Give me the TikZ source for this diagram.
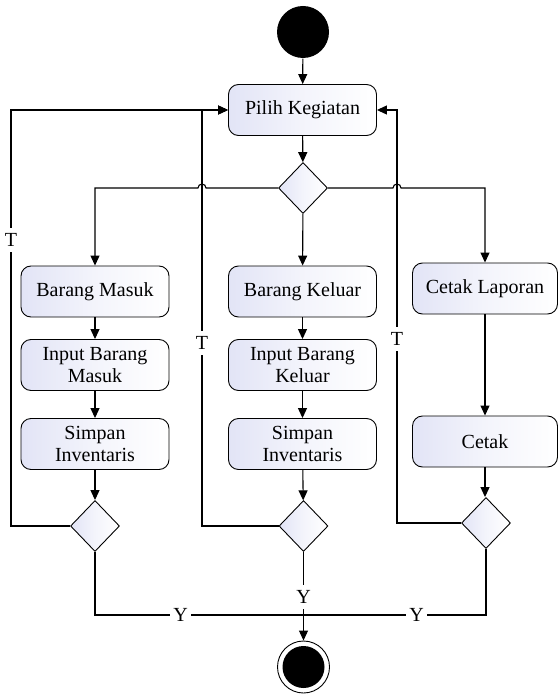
\documentclass[tikz,border=0pt]{standalone}
\usepackage{fontspec}
\setmainfont{Liberation Serif}
\usetikzlibrary{arrows.meta,shapes.geometric}
\definecolor{boxL}{RGB}{226,228,246}
\begin{document}
\begin{tikzpicture}[x=1pt,y=1pt,
  font=\fontsize{20}{22}\selectfont,
  line width=1.1pt,
  act/.style={draw, line width=0.9pt, rounded corners=10pt, left color=boxL, right color=white, middle color=white!60!boxL,
    minimum width=148pt, minimum height=51pt, align=center, inner sep=2pt},
  dec/.style={draw, diamond, line width=0.9pt, left color=boxL, right color=white, middle color=white!60!boxL,
    minimum width=49pt, minimum height=51pt, inner sep=0pt},
  flow/.style={-{Triangle[length=10pt,width=9pt]}},
  lbl/.style={fill=white, inner xsep=3pt, inner ysep=5pt}
]
\useasboundingbox (0,0) rectangle (558,-695);

% nodes
\node[circle, fill=black, minimum size=52pt, inner sep=0pt] (start) at (303,-32) {};
\node[act] (pk) at (302.5,-110) {Pilih Kegiatan};
\node[dec] (d0) at (303,-188) {};

\node[act] (bm)  at (95,-291.5) {Barang Masuk};
\node[act] (ibm) at (95,-365) {Input Barang\\Masuk};
\node[act] (sbm) at (95,-444) {Simpan\\Inventaris};
\node[dec] (dd1) at (95,-526) {};

\node[act] (bk)  at (302.5,-291.5) {Barang Keluar};
\node[act] (ibk) at (302.5,-365) {Input Barang\\Keluar};
\node[act] (sbk) at (302.5,-444) {Simpan\\Inventaris};
\node[dec] (dd2) at (303.5,-526) {};

\node[act, minimum width=145pt] (cl) at (485,-288.5) {Cetak Laporan};
\node[act, minimum width=145pt] (ct) at (485,-441.5) {Cetak};
\node[dec] (dd3) at (486,-523) {};

\node[circle, draw, line width=0.9pt, fill=white, minimum size=52pt, inner sep=0pt] (endc) at (303.5,-667) {};
\node[circle, fill=black, minimum size=42pt, inner sep=0pt] (endi) at (endc) {};

% helper coordinates
\coordinate (hopa) at (206,-188);
\coordinate (hopb) at (393,-188);
\coordinate (l1) at (11,-110);
\coordinate (l2) at (202,-110);
\coordinate (l3) at (397,-110);
\coordinate (m) at (303.5,-615);

% main flow
\draw[flow] (start) -- (pk);
\draw[flow] (pk) -- (d0);
\draw[flow] (d0.west) -- (hopa) arc[start angle=0, end angle=180, radius=4pt] -- (d0.west -| bm.north) -- (bm.north);
\draw[flow] (d0) -- (bk);
\draw[flow] (d0.east) -- (hopb) arc[start angle=180, end angle=0, radius=4pt] -- (d0.east -| cl.north) -- (cl.north);

\draw[flow] (bm) -- (ibm);
\draw[flow] (ibm) -- (sbm);
\draw[flow] (sbm) -- (dd1);
\draw[flow] (bk) -- (ibk);
\draw[flow] (ibk) -- (sbk);
\draw[flow] (sbk) -- (dd2);
\draw[flow] (cl) -- (ct);
\draw[flow] (ct) -- (dd3.north -| ct.south);

% loops back
\draw[flow] (dd1.west) -| (l1) -- (pk.west);
\draw[flow] (dd2.west) -| (l2) -- (pk.west);
\draw[flow] (dd3.west) -| (l3) -- (pk.east);
\node[lbl] (t1) at (11,-240) {T};
\node[lbl] (t2) at (202,-343) {T};
\node[lbl] (t3) at (397,-339) {T};

% merge to end
\draw (dd1.south) |- (m);
\draw (dd3.south) |- (m);
\draw[flow] (dd2.south) -- (endc.north);
\node[lbl] (y1) at (180.5,-615) {Y};
\node[lbl] (y2) at (416.7,-615) {Y};
\node[lbl] (y3) at (303.5,-597) {Y};
\end{tikzpicture}
\end{document}
